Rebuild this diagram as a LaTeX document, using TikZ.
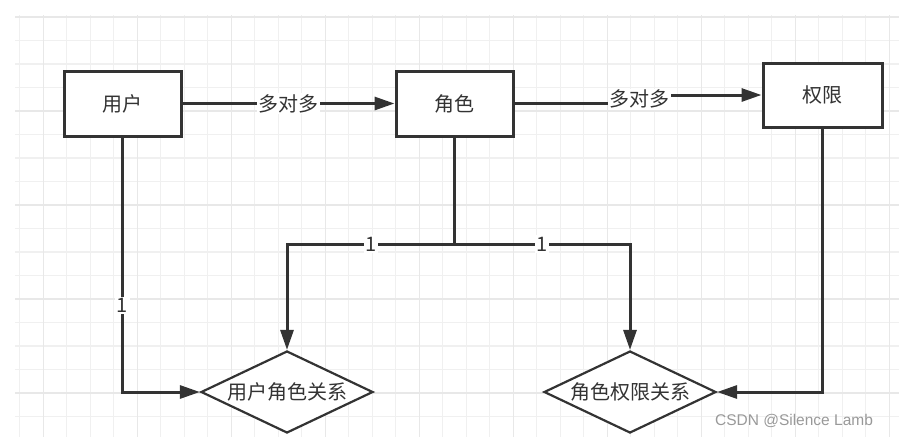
\documentclass[tikz,border=0pt]{standalone}
\usepackage{fontspec}
\usepackage{tikz}
\usetikzlibrary{arrows.meta,positioning,shapes.geometric}
\newfontfamily\cjk{Noto Sans CJK SC}
\newfontfamily\wmfont{Liberation Sans}
\definecolor{ink}{HTML}{333333}
\definecolor{gridminor}{HTML}{F0F0F0}
\definecolor{gridmajor}{HTML}{E8E8E8}

\begin{document}
\begin{tikzpicture}[
  x=1pt, y=-1pt,
  every node/.style={font=\cjk\fontsize{20}{22}\selectfont, text=ink},
  entity/.style={draw=ink, line width=3pt, fill=white, minimum width=117pt, minimum height=65pt},
  relation/.style={draw=ink, line width=2.2pt, fill=white, diamond, aspect=2, inner sep=0pt,
    minimum width=172pt, minimum height=82pt},
  link/.style={draw=ink, line width=3pt, -{Triangle[length=20pt,width=13pt]}},
  plain/.style={draw=ink, line width=3pt},
  card/.style={fill=white, inner sep=1.5pt}
]
\useasboundingbox (0,0) rectangle (899,437);

% grid
\begin{scope}
  \clip (15,15) rectangle (899,437);
  \foreach \x in {19.8,43.3,...,899} \draw[gridminor, line width=1.2pt] (\x,15) -- (\x,437);
  \foreach \y in {17,40.5,...,437} \draw[gridminor, line width=1.2pt] (15,\y) -- (899,\y);
  \foreach \x in {43.3,137.3,...,899} \draw[gridmajor, line width=1.2pt] (\x,15) -- (\x,437);
  \foreach \y in {17,111,...,437} \draw[gridmajor, line width=1.2pt] (15,\y) -- (899,\y);
\end{scope}

\node[entity] (yonghu) at (122.5,103.5) {用户};
\node[entity] (juese) at (454.5,103.5) {角色};
\node[entity, minimum width=119pt, minimum height=64pt] (quanxian) at (822.5,95) {权限};

\node[relation] (yjrel) at (287,392) {用户角色关系};
\node[relation] (jqrel) at (630,392) {角色权限关系};

\coordinate (split) at (454.5,244);
\coordinate (jog) at (639,103.5);

\draw[link] (yonghu) -- node[card] {多对多} (juese);
\draw[link] (juese.east) -- (jog) |- node[card, pos=0.25] {多对多} (quanxian.west);
\draw[link] (yonghu) |- node[card, pos=0.33] {1} (yjrel.west);
\draw[plain] (juese) -- (split);
\draw[link] (split) -| node[card, pos=0.25] {1} (yjrel.north);
\draw[link] (split) -| node[card, pos=0.25] {1} (jqrel.north);
\draw[link] (quanxian) |- (jqrel.east);

\node[font=\wmfont\fontsize{15.5}{17}\selectfont, text=black!40] (mark) at (794,421) {CSDN @Silence Lamb};
\end{tikzpicture}
\end{document}
